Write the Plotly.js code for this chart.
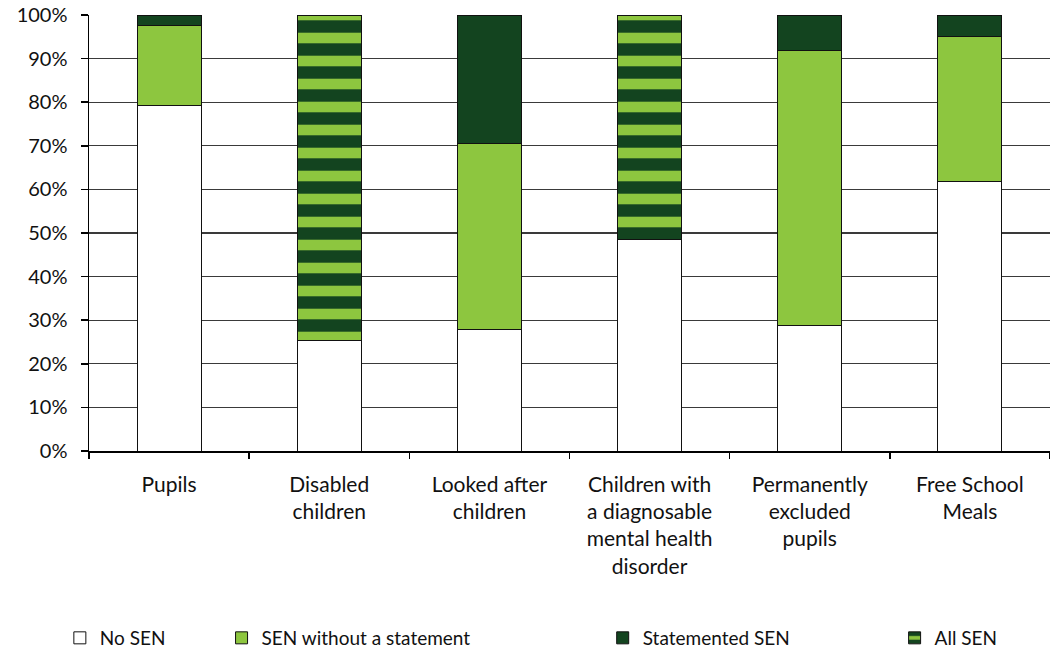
<!DOCTYPE html>
<html>
<head>
<meta charset="utf-8">
<script src="https://cdn.plot.ly/plotly-3.0.1.min.js"></script>
<style>html,body{margin:0;padding:0;background:#fff;}#chart{width:1050px;height:651px;}</style>
</head>
<body>
<div id="chart"></div>
<script>
const categories = [
  "Pupils",
  "Disabled<br>children",
  "Looked after<br>children",
  "Children with<br>a diagnosable<br>mental health<br>disorder",
  "Permanently<br>excluded<br>pupils",
  "Free School<br>Meals"
];
const noSEN          = [79.3, 25.3, 27.8, 48.4, 28.8, 61.8];
const senNoStatement = [18.2, null, 42.8, null, 63.0, 33.2];
const statementedSEN = [2.5,  null, 29.4, null, 8.2,  5.0];
const allSEN         = [null, 74.7, null, 51.6, null, null];
const yTickVals  = [0, 10, 20, 30, 40, 50, 60, 70, 80, 90, 100];
const yTickText  = ["0%","10%","20%","30%","40%","50%","60%","70%","80%","90%","100%"];

const LIGHT = "#8dc63f";
const DARK = "#13441f";
const FONT = "Lato, 'Open Sans', sans-serif";

const outline = {color: "#111", width: 1};
const traces = [
  {type: "bar", name: "No SEN", x: categories, y: noSEN,
   marker: {color: "#ffffff", line: outline}, legend: "legend"},
  {type: "bar", name: "SEN without a statement", x: categories, y: senNoStatement,
   marker: {color: LIGHT, line: outline}, legend: "legend2"},
  {type: "bar", name: "Statemented SEN", x: categories, y: statementedSEN,
   marker: {color: DARK, line: outline}, legend: "legend3"},
  {type: "bar", name: "All SEN", x: categories, y: allSEN,
   marker: {color: LIGHT, line: outline,
            pattern: {shape: "-", bgcolor: LIGHT, fgcolor: DARK, size: 23, solidity: 0.54, fillmode: "replace"}},
   legend: "legend4"}
];

const legBase = {orientation: "h", xref: "container", yref: "container", yanchor: "middle",
  y: 0.02, font: {family: FONT, size: 19, color: "#111"}, bgcolor: "rgba(0,0,0,0)", traceorder: "normal"};

const layout = {
  width: 1050, height: 651,
  margin: {l: 89, r: 0, t: 15, b: 200},
  paper_bgcolor: "#fff", plot_bgcolor: "#fff",
  barmode: "stack", bargap: 0.6,
  font: {family: FONT, size: 20, color: "#111"},
  xaxis: {
    type: "category", showgrid: false, showline: true, linecolor: "#000", linewidth: 1.5,
    ticks: "outside", tickson: "boundaries", ticklen: 6, tickcolor: "#000", tickwidth: 1.5,
    tickfont: {family: FONT, size: 21, color: "#111"}, ticklabelstandoff: 14, fixedrange: true
  },
  yaxis: {
    range: [0, 100], tickvals: yTickVals, ticktext: yTickText,
    showgrid: true, gridcolor: "#3a3a3a", gridwidth: 1.2,
    showline: true, linecolor: "#000", linewidth: 1.5,
    ticks: "outside", ticklen: 7, tickcolor: "#000", tickwidth: 1.5,
    tickfont: {family: FONT, size: 20, color: "#111"}, ticklabelstandoff: 9,
    zeroline: false, fixedrange: true
  },
  showlegend: true,
  legend:  Object.assign({}, legBase, {x: 0.057}),
  legend2: Object.assign({}, legBase, {x: 0.211}),
  legend3: Object.assign({}, legBase, {x: 0.574}),
  legend4: Object.assign({}, legBase, {x: 0.852})
};

Plotly.newPlot("chart", traces, layout, {staticPlot: true, displayModeBar: false});
</script>
</body>
</html>
